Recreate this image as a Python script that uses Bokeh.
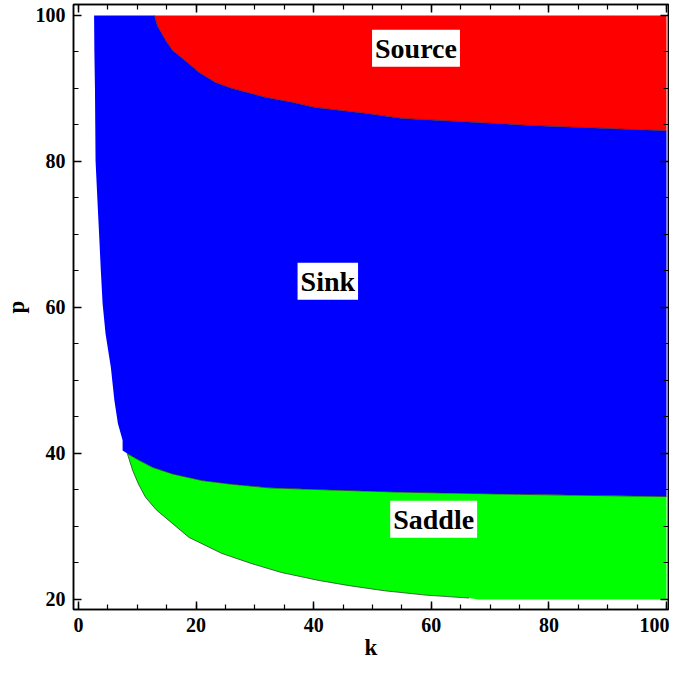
from bokeh.plotting import figure
from bokeh.models import Label, LinearAxis, SingleIntervalTicker, Range1d, CustomJSTickFormatter
from bokeh.embed import file_html
from bokeh.resources import INLINE

# ---- data (k, p) ----
# Source/Sink boundary (lower edge of the red region)
src_k = [12.9, 13.4, 14.8, 16.0, 17.7, 20.5, 23.3, 26.1, 31.7, 36.3, 40.2, 48.7, 55.0, 77.6, 100.0]
src_p = [100.0, 98.6, 96.6, 95.2, 94.1, 92.2, 90.8, 90.0, 88.8, 88.1, 87.4, 86.6, 85.9, 84.9, 84.2]

# left edge of the Sink region
sink_left_k = [2.65, 2.7, 2.8, 2.85, 2.9, 3.2, 3.5, 3.8, 4.1, 4.6, 5.5, 6.1, 6.7, 7.5]
sink_left_p = [100.0, 95.0, 90.0, 85.0, 80.1, 75.0, 70.1, 65.0, 60.5, 56.4, 51.8, 47.3, 44.1, 41.8]

# Sink/Saddle boundary
sad_top_k = [7.5, 8.3, 10.0, 12.6, 16.0, 21.0, 26.0, 32.4, 43.0, 55.0, 75.0, 100.0]
sad_top_p = [40.4, 40.0, 39.2, 38.1, 37.2, 36.3, 35.8, 35.3, 35.0, 34.7, 34.4, 34.1]

# lower edge of the Saddle region
sad_low_k = [8.3, 9.2, 10.2, 11.4, 13.2, 15.4, 18.8, 24.4, 29.5, 34.5, 40.9, 46.0, 52.0, 59.0, 66.4, 68.0, 100.0]
sad_low_p = [40.0, 37.7, 35.8, 34.0, 32.3, 30.8, 28.5, 26.3, 24.9, 23.7, 22.6, 21.9, 21.2, 20.6, 20.2, 20.0, 20.0]

k_max = 100.0
p_max = 100.0

region_names = ["Source", "Sink", "Saddle"]
label_k = [57.4, 42.4, 60.4]
label_p = [95.5, 63.6, 31.0]

x_ticks_interval = 20
y_ticks_interval = 20

FONT = "Liberation Serif"

p = figure(width=669, height=663,
           x_range=Range1d(-0.85, 100.34), y_range=Range1d(18.63, 101.5),
           output_backend="svg", toolbar_location=None,
           min_border_left=71, min_border_right=1, min_border_top=4, min_border_bottom=54)
p.xgrid.visible = False
p.ygrid.visible = False
p.outline_line_color = "black"
p.outline_line_width = 1.5
p.background_fill_color = "white"

# Source region (red)
red_x = src_k + [k_max]
red_y = src_p + [p_max]
p.patch(red_x, red_y, fill_color="#FF0000", line_color=None)

# Sink region (blue)
blue_x = sink_left_k + sad_top_k + [k_max] + src_k[::-1]
blue_y = sink_left_p + sad_top_p + [src_p[-1]] + src_p[::-1]
p.patch(blue_x, blue_y, fill_color="#0000FF", line_color=None)

# Saddle region (green)
green_x = sad_top_k[1:] + sad_low_k[::-1]
green_y = sad_top_p[1:] + sad_low_p[::-1]
p.patch(green_x, green_y, fill_color="#00FF00", line_color=None)

# thin boundary lines
p.line(src_k, src_p, line_color="#302020", line_width=1, line_alpha=0.6)
p.line(sad_top_k[1:], sad_top_p[1:], line_color="#202030", line_width=1, line_alpha=0.7)
p.line(sad_low_k[:-2], sad_low_p[:-2], line_color="#203020", line_width=1, line_alpha=0.7)

# axes
def style_axis(ax, show_labels):
    ax.axis_line_color = "black"
    ax.axis_line_width = 1.5
    ax.major_tick_in = 8
    ax.major_tick_out = 0
    ax.minor_tick_in = 5
    ax.minor_tick_out = 0
    ax.major_tick_line_color = "black"
    ax.major_tick_line_width = 1.5
    ax.minor_tick_line_color = "black"
    ax.minor_tick_line_width = 1.2
    ax.major_label_text_font = FONT
    ax.major_label_text_font_style = "bold"
    ax.major_label_text_font_size = "20px"
    ax.major_label_text_color = "black"
    ax.axis_label_text_font = FONT
    ax.axis_label_text_font_style = "bold"
    ax.axis_label_text_font_size = "23px"
    ax.axis_label_text_color = "black"
    if not show_labels:
        ax.formatter = CustomJSTickFormatter(code="return ''")
        ax.major_label_text_font_size = "0px"
        ax.major_label_standoff = 0

p.xaxis.ticker = SingleIntervalTicker(interval=x_ticks_interval, num_minor_ticks=4)
p.yaxis.ticker = SingleIntervalTicker(interval=y_ticks_interval, num_minor_ticks=4)
p.xaxis.axis_label = "k"
p.yaxis.axis_label = "p"
style_axis(p.xaxis[0], True)
style_axis(p.yaxis[0], True)
p.xaxis.major_label_standoff = 8
p.xaxis.axis_label_standoff = 0
p.yaxis.major_label_standoff = 8
p.yaxis.axis_label_standoff = 4

top = LinearAxis(ticker=SingleIntervalTicker(interval=x_ticks_interval, num_minor_ticks=4))
style_axis(top, False)
p.add_layout(top, "above")
right = LinearAxis(ticker=SingleIntervalTicker(interval=y_ticks_interval, num_minor_ticks=4))
style_axis(right, False)
p.add_layout(right, "right")

for name, kx, py in zip(region_names, label_k, label_p):
    p.add_layout(Label(x=kx, y=py, text=name, text_align="center", text_baseline="middle",
                       text_font=FONT, text_font_style="bold", text_font_size="28px",
                       text_color="black", background_fill_color="white",
                       padding=3))

open("out.html", "w").write(file_html(p, INLINE))
